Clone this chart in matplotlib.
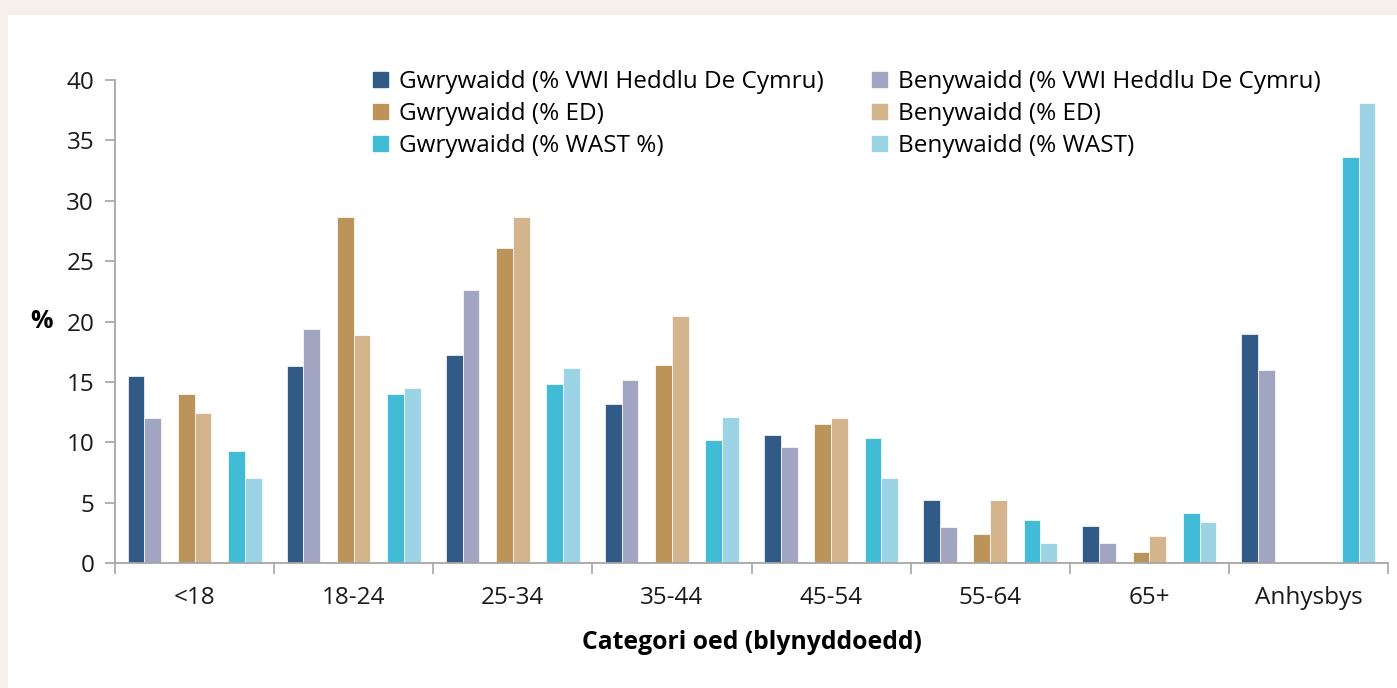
import matplotlib
matplotlib.use("Agg")
import matplotlib.pyplot as plt
import matplotlib.patches as mpatches
import numpy as np

plt.rcParams['font.family'] = ['Open Sans', 'DejaVu Sans']

# Data
categories = ["<18", "18-24", "25-34", "35-44", "45-54", "55-64", "65+", "Anhysbys"]

gwr_vwi = [15.5, 16.3, 17.2, 13.2, 10.6, 5.2, 3.1, 19.0]
ben_vwi = [12.0, 19.4, 22.6, 15.2, 9.6, 3.0, 1.7, 16.0]
gwr_ed = [14.0, 28.7, 26.1, 16.4, 11.5, 2.4, 0.9, np.nan]
ben_ed = [12.4, 18.9, 28.7, 20.5, 12.0, 5.2, 2.3, np.nan]
gwr_wast = [9.3, 14.0, 14.8, 10.2, 10.4, 3.6, 4.2, 33.6]
ben_wast = [7.1, 14.5, 16.2, 12.1, 7.1, 1.7, 3.4, 38.1]

labels = [
    "Gwrywaidd (% VWI Heddlu De Cymru)",
    "Benywaidd (% VWI Heddlu De Cymru)",
    "Gwrywaidd (% ED)",
    "Benywaidd (% ED)",
    "Gwrywaidd (% WAST %)",
    "Benywaidd (% WAST)",
]
series = [gwr_vwi, ben_vwi, gwr_ed, ben_ed, gwr_wast, ben_wast]
colors = ["#325a87", "#a1a5c1", "#bc9459", "#d4b48c", "#42bbd7", "#9cd4e6"]
slots = [0, 1, 3, 4, 6, 7]  # pairs with a gap slot between

fig = plt.figure(figsize=(13.97, 6.88), dpi=100)
fig.patch.set_facecolor("#f5f0e9")
# white panel
fig.patches.append(mpatches.Rectangle((8 / 1397, 0), 1, 1 - 15 / 688,
                                      transform=fig.transFigure,
                                      facecolor="white", edgecolor="none", zorder=-5))

ax = fig.add_axes([115 / 1397, (688 - 563.3) / 688, (1388 - 115) / 1397, (563.3 - 80) / 688])
ax.set_facecolor("none")

x = np.arange(len(categories))
w = 0.1053
for vals, col, s, lab in zip(series, colors, slots, labels):
    ax.bar(x + (s - 3.5) * w, vals, width=w, color=col,
           edgecolor="white", linewidth=0.5, label=lab, zorder=2)

ax.set_xlim(-0.5, len(categories) - 0.5)
ax.set_ylim(0, 40)
ax.set_yticks(range(0, 41, 5))
ax.set_xticks(np.arange(-0.5, len(categories), 1.0))
ax.set_xticklabels([])
ax.set_xticks(x, minor=True)
ax.set_xticklabels(categories, minor=True)

spine_col = "#a6a6a6"
for side in ["top", "right"]:
    ax.spines[side].set_visible(False)
for side in ["left", "bottom"]:
    ax.spines[side].set_color(spine_col)
    ax.spines[side].set_linewidth(1.3)

ax.tick_params(axis="y", which="major", length=7, width=1.2, color=spine_col,
               labelsize=17.5, labelcolor="#1a1a1a", pad=8)
ax.tick_params(axis="x", which="major", length=8, width=1.2, color=spine_col)
ax.tick_params(axis="x", which="minor", length=0, labelsize=17.5,
               labelcolor="#1a1a1a", pad=16)

ax.set_xlabel("Categori oed (blynyddoedd)", fontsize=17.8, fontweight="bold",
              labelpad=15)
ax.set_ylabel("%", fontsize=18, fontweight="bold", rotation=0, labelpad=18,
              va="center")

# legend: two columns, male series in first column
order = [0, 2, 4, 1, 3, 5]
handles = [mpatches.Patch(color=colors[i]) for i in order]
fig.legend(handles, [labels[i] for i in order], ncol=2, loc="upper left",
           bbox_to_anchor=(373 / 1397, 1 - 70 / 688), frameon=False,
           fontsize=17.5, handlelength=0.62, handleheight=0.62,
           handletextpad=0.45, columnspacing=2.0, labelspacing=0.33,
           borderpad=0, borderaxespad=0)

fig.savefig("out.png", dpi=100, facecolor=fig.get_facecolor())
